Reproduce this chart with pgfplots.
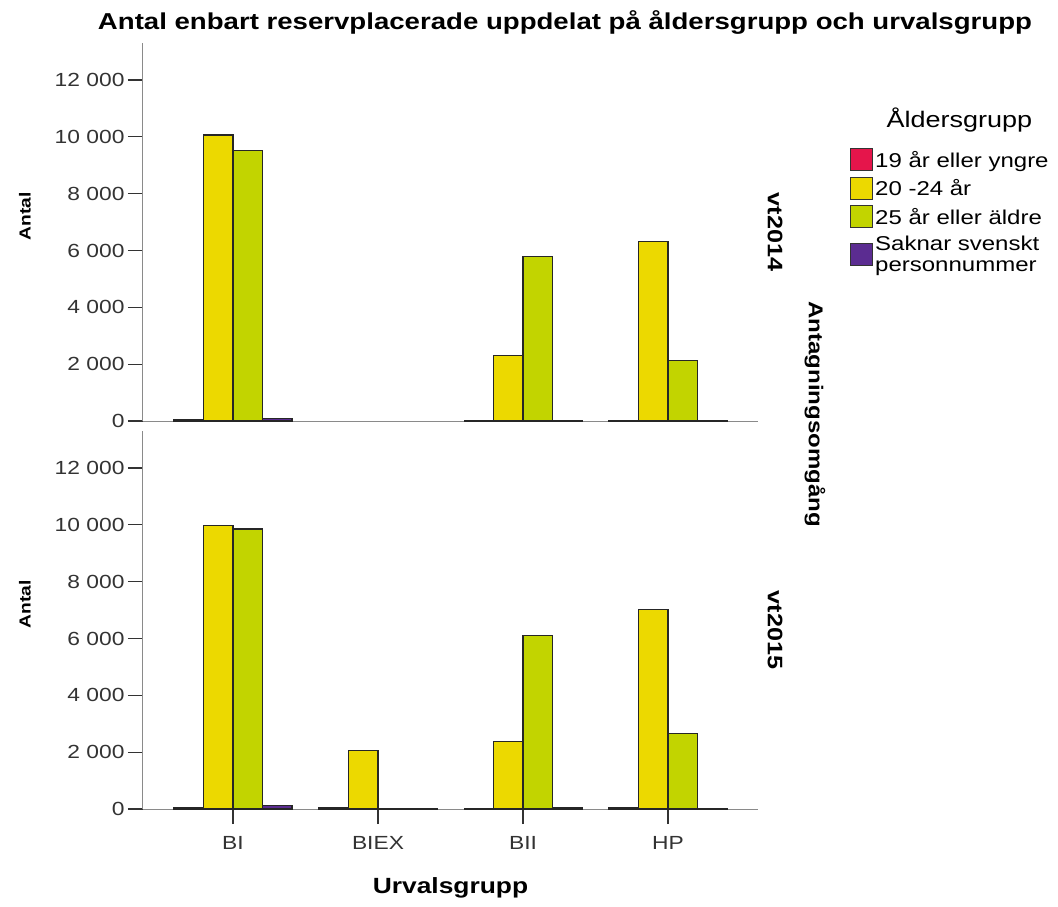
\documentclass[border=0pt]{standalone}
\usepackage{fontspec}
\setmainfont{Liberation Sans}[FakeStretch=1.2]
\usepackage{pgfplots}
\pgfplotsset{compat=1.18}
\definecolor{cRed}{HTML}{E5154B}
\definecolor{cYel}{HTML}{ECD900}
\definecolor{cGrn}{HTML}{C2D400}
\definecolor{cPur}{HTML}{5B2C91}
\definecolor{axgray}{HTML}{8A8A8A}
\pgfplotsset{
 panel/.style={
  scale only axis, width=615pt, height=378pt,
  xmin=-0.6207, xmax=3.6207, ymin=0, ymax=13300,
  axis x line=bottom, axis y line=left,
  axis line style={-, draw=axgray, line width=1pt},
  ytick={0,2000,...,12000},
  scaled y ticks=false,
  ytick style={draw=black!80, line width=1.1pt},
  major tick length=15pt,
  tick align=outside,
  yticklabel style={font=\fontsize{19}{22}\selectfont, text=black!80, /pgf/number format/assume math mode=true, /pgf/number format/1000 sep={\ }},
  ylabel={Antal},
  every axis y label/.style={at={(axis description cs:-0.192,0.542)}, rotate=90, anchor=center, font=\bfseries\fontsize{16}{18}\selectfont},
  ybar=0pt, bar width=29.5pt,
  every axis plot/.append style={draw=black!85, line width=1.2pt},
 }
}
\begin{document}
\begin{tikzpicture}
\useasboundingbox (0,0) rectangle (1058pt,-906pt);
% top panel vt2014
\begin{axis}[panel, at={(143pt,-421pt)}, anchor=south west,
  xtick=\empty,
  legend image code/.code={\draw[#1, draw=black!80, line width=1pt] (0pt,-11pt) rectangle (22pt,11pt);},
  legend style={draw=none, fill=none, at={(1.1496,0.722)}, anchor=north west,
    font=\fontsize{20}{21}\selectfont, inner sep=0pt, row sep=5.5pt,
    cells={anchor=west, align=left},
    /tikz/every even column/.style={column sep=8pt}},
]
\addplot[fill=cRed] coordinates {(0,40) (2,0) (3,30)};
\addlegendentry{19 år eller yngre}
\addplot[fill=cYel] coordinates {(0,10065) (2,2310) (3,6305)};
\addlegendentry{20 -24 år}
\addplot[fill=cGrn] coordinates {(0,9520) (2,5790) (3,2135)};
\addlegendentry{25 år eller äldre}
\addplot[fill=cPur] coordinates {(0,90) (2,20) (3,15)};
\addlegendentry{Saknar svenskt\\personnummer}
\end{axis}
% bottom panel vt2015
\begin{axis}[panel, at={(143pt,-809pt)}, anchor=south west,
  xtick={0,1,2,3}, xticklabels={BI,BIEX,BII,HP},
  xtick style={draw=black!80, line width=1.1pt},
  xticklabel style={font=\fontsize{19}{22}\selectfont, text=black!80, yshift=-9pt},
  xlabel={Urvalsgrupp},
  every axis x label/.style={at={(axis description cs:0.5,-0.209)}, anchor=center, font=\bfseries\fontsize{22}{24}\selectfont},
]
\addplot[fill=cRed] coordinates {(0,50) (1,40) (2,0) (3,50)};
\addplot[fill=cYel] coordinates {(0,9965) (1,2070) (2,2365) (3,7010)};
\addplot[fill=cGrn] coordinates {(0,9850) (1,0) (2,6105) (3,2670)};
\addplot[fill=cPur] coordinates {(0,130) (1,5) (2,40) (3,10)};
\end{axis}
\node[font=\bfseries\fontsize{23}{26}\selectfont] at (565pt,-22pt) {Antal enbart reservplacerade uppdelat på åldersgrupp och urvalsgrupp};
\node[font=\fontsize{22.5}{26}\selectfont, anchor=west] at (883pt,-120pt) {Åldersgrupp};
\node[font=\bfseries\fontsize{21}{24}\selectfont, rotate=-90] at (775pt,-232pt) {vt2014};
\node[font=\bfseries\fontsize{21}{24}\selectfont, rotate=-90] at (775pt,-630pt) {vt2015};
\node[font=\bfseries\fontsize{20}{24}\selectfont, rotate=-90] at (815pt,-414pt) {Antagningsomgång};
\end{tikzpicture}
\end{document}
